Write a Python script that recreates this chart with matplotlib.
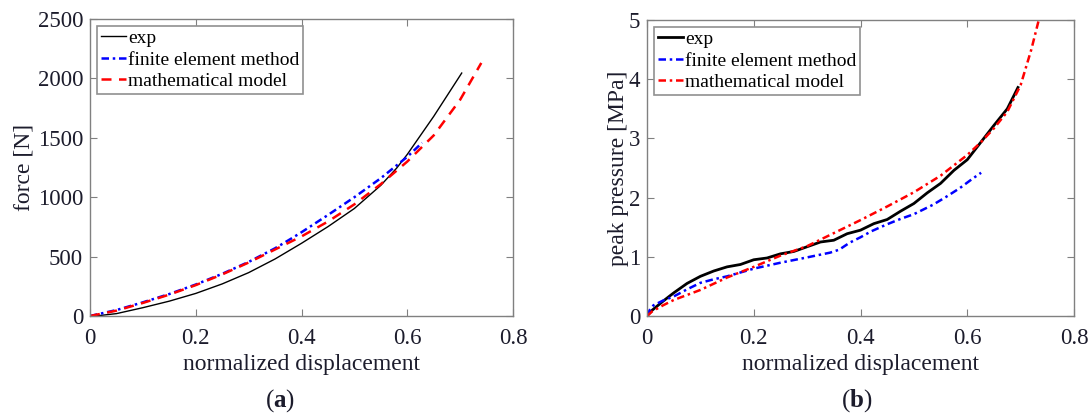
import numpy as np
import matplotlib
matplotlib.use('Agg')
import matplotlib.pyplot as plt

plt.rcParams['font.family'] = ['Liberation Serif', 'DejaVu Serif']
plt.rcParams['mathtext.fontset'] = 'custom'
plt.rcParams['mathtext.rm'] = 'Liberation Serif'
plt.rcParams['mathtext.bf'] = 'Liberation Serif:bold'

# (a) force vs normalized displacement
a_exp_x = [0, 0.02, 0.05, 0.1, 0.15, 0.2, 0.25, 0.3, 0.35, 0.4, 0.45, 0.5, 0.55, 0.58, 0.6, 0.65, 0.703]
a_exp_y = [0, 5, 20, 70, 125, 190, 270, 365, 480, 612, 752, 905, 1100, 1245, 1360, 1680, 2045]
a_fem_x = [0, 0.05, 0.1, 0.15, 0.2, 0.25, 0.3, 0.35, 0.38, 0.4, 0.45, 0.5, 0.55, 0.6, 0.628]
a_fem_y = [0, 50, 115, 185, 265, 355, 455, 570, 650, 705, 850, 1000, 1160, 1340, 1458]
a_mm_x = [0, 0.05, 0.1, 0.15, 0.2, 0.25, 0.3, 0.35, 0.4, 0.45, 0.5, 0.55, 0.6, 0.65, 0.7, 0.74]
a_mm_y = [0, 45, 110, 180, 260, 350, 450, 560, 670, 795, 940, 1110, 1300, 1520, 1820, 2130]

# (b) peak pressure vs normalized displacement
b_exp_x = [0, 0.01, 0.03, 0.05, 0.075, 0.1, 0.125, 0.15, 0.175, 0.2, 0.225, 0.25, 0.275,
           0.3, 0.325, 0.35, 0.375, 0.4, 0.425, 0.45, 0.475, 0.5, 0.525, 0.55, 0.575,
           0.6, 0.625, 0.65, 0.675, 0.695]
b_exp_y = [0, 0.1, 0.25, 0.39, 0.55, 0.67, 0.76, 0.83, 0.87, 0.95, 0.98, 1.05, 1.09,
           1.17, 1.25, 1.28, 1.39, 1.45, 1.56, 1.63, 1.77, 1.90, 2.08, 2.24, 2.46,
           2.64, 2.93, 3.22, 3.50, 3.86]
b_fem_x = [0, 0.005, 0.012, 0.03, 0.05, 0.075, 0.1, 0.125, 0.15, 0.2, 0.25, 0.3, 0.343,
           0.36, 0.38, 0.4, 0.42, 0.45, 0.475, 0.5, 0.536, 0.56, 0.586, 0.61, 0.626]
b_fem_y = [0, 0.1, 0.18, 0.26, 0.33, 0.45, 0.56, 0.62, 0.67, 0.80, 0.90, 0.99, 1.07,
           1.12, 1.24, 1.33, 1.43, 1.55, 1.64, 1.72, 1.88, 2.01, 2.16, 2.32, 2.42]
b_mm_x = [0, 0.01, 0.03, 0.05, 0.1, 0.15, 0.2, 0.25, 0.3, 0.35, 0.4, 0.45, 0.5, 0.55,
          0.6, 0.625, 0.65, 0.675, 0.7, 0.72, 0.734]
b_mm_y = [0, 0.08, 0.18, 0.27, 0.44, 0.65, 0.83, 1.02, 1.18, 1.40, 1.62, 1.85, 2.09, 2.37,
          2.72, 2.93, 3.17, 3.45, 3.9, 4.5, 5.0]

labels = ['exp', 'finite element method', 'mathematical model']
txt = '#1c1c2c'
spine = '#808080'

fig = plt.figure(figsize=(10.89, 4.18), dpi=100)
ax1 = fig.add_axes([90/1089, 102/418, 423/1089, 297/418])
ax2 = fig.add_axes([647/1089, 102/418, 427/1089, 296/418])


def style(ax, ylim, yticks):
    ax.set_xlim(0, 0.8)
    ax.set_ylim(*ylim)
    ax.set_xticks([0, 0.2, 0.4, 0.6, 0.8])
    ax.set_xticklabels(['0', '0.2', '0.4', '0.6', '0.8'])
    ax.set_yticks(yticks)
    ax.tick_params(direction='in', top=True, right=True, length=5, width=0.8,
                   color=spine, labelsize=16.5, labelcolor=txt)
    ax.tick_params(axis='x', pad=9)
    ax.tick_params(axis='y', pad=5)
    for s in ax.spines.values():
        s.set_color(spine)
        s.set_linewidth(1.0)
    ax.set_xlabel('normalized displacement', fontsize=17, color=txt, labelpad=3)


ax1.plot(a_exp_x, a_exp_y, color='black', lw=1.0, label=labels[0])
ax1.plot(a_fem_x, a_fem_y, color='blue', lw=1.8, ls=(0, (3, 1.5, 1, 1.5)), label=labels[1])
ax1.plot(a_mm_x, a_mm_y, color='red', lw=1.8, ls=(0, (4, 3)), label=labels[2])
style(ax1, (0, 2500), [0, 500, 1000, 1500, 2000, 2500])
ax1.set_ylabel('force [N]', fontsize=17, color=txt, labelpad=2)

ax2.plot(b_exp_x, b_exp_y, color='black', lw=2.0, label=labels[0])
ax2.plot(b_fem_x, b_fem_y, color='blue', lw=1.8, ls=(0, (3, 1.5, 1, 1.5)), label=labels[1])
ax2.plot(b_mm_x, b_mm_y, color='red', lw=1.8, ls=(0, (3, 1.5, 1, 1.5)), label=labels[2])
style(ax2, (0, 5), [0, 1, 2, 3, 4, 5])
ax2.set_ylabel('peak pressure [MPa]', fontsize=17, color=txt, labelpad=0)

for ax in (ax1, ax2):
    leg = ax.legend(loc='upper left', fontsize=14, fancybox=False, framealpha=1,
                    edgecolor='#909090', borderaxespad=0.35, borderpad=0.2,
                    labelspacing=0.2, handlelength=1.3, handletextpad=0.1)
    leg.get_frame().set_linewidth(1.2)
    for t in leg.get_texts():
        t.set_color('black')

fig.text(280/1089, 1 - 401/418, r'($\mathbf{a}$)', fontsize=18, ha='center', va='center', color=txt)
fig.text(857/1089, 1 - 401/418, r'($\mathbf{b}$)', fontsize=18, ha='center', va='center', color=txt)

fig.savefig('out.png', dpi=100)
